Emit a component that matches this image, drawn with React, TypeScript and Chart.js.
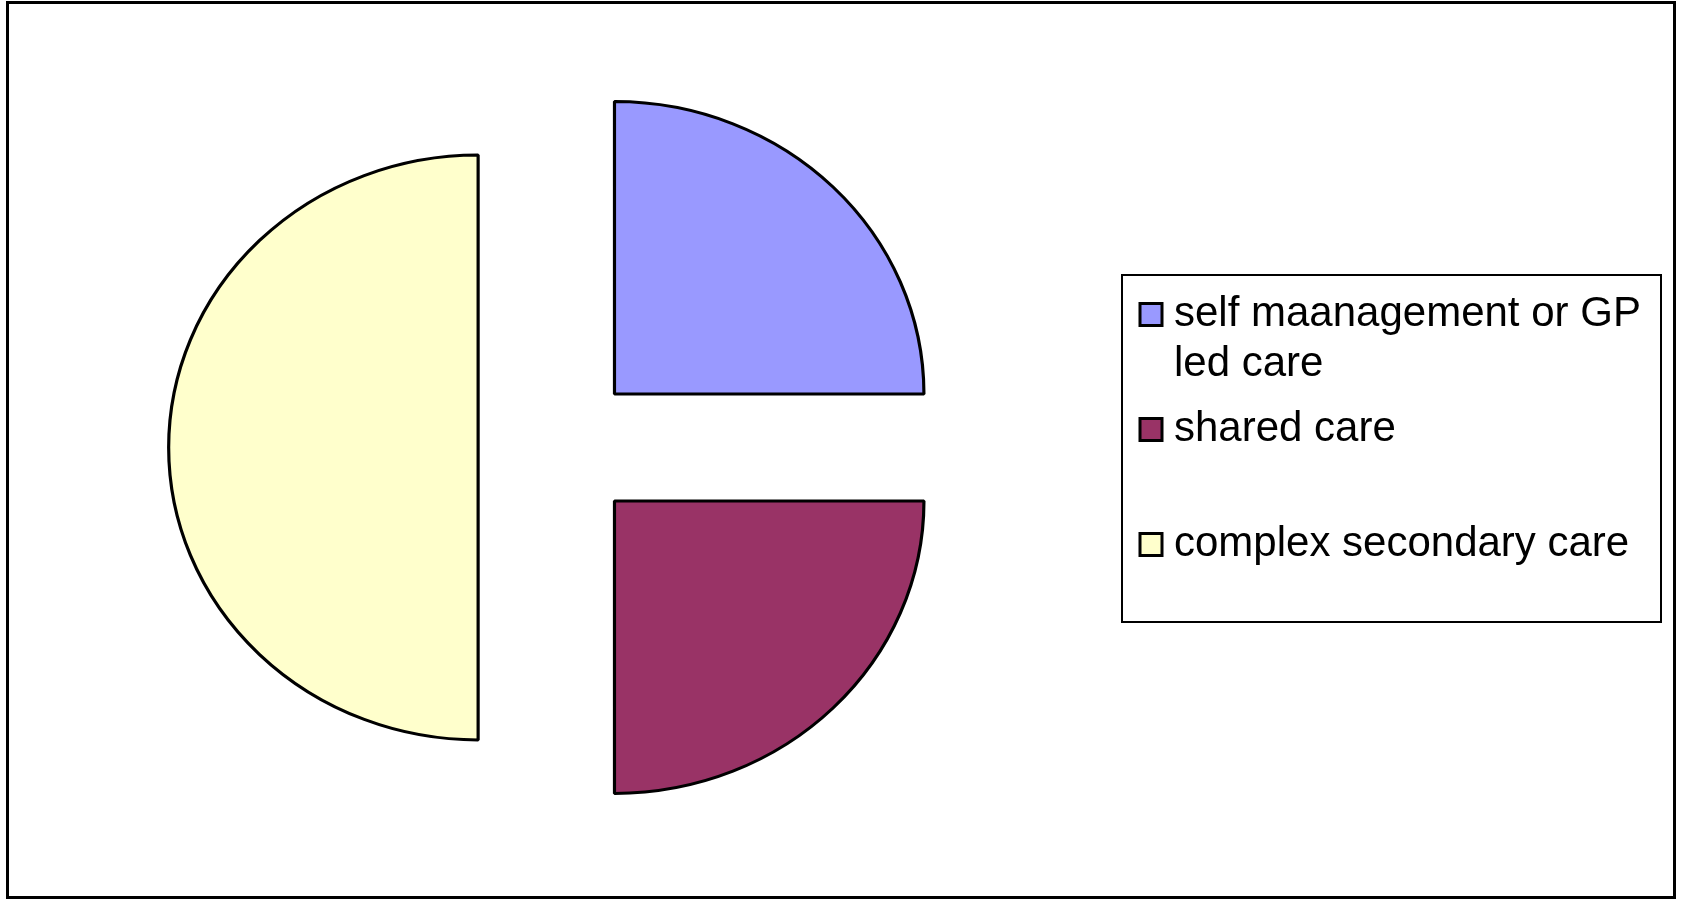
import React, { useEffect, useRef } from 'react';
import { Chart, registerables } from 'chart.js';

Chart.register(...registerables);

// ---- data ----
const categories: string[][] = [
  ['self maanagement or GP', 'led care'],
  ['shared care', ''],
  ['complex secondary care', ''],
];
const shares: number[] = [25, 25, 50];
const sliceColors: string[] = ['#9999FF', '#993366', '#FFFFCC'];

// ---- style ----
const PIE_RADIUS = 292.5;
const EXPLODE = 75.5;
const STRETCH_X = 1.058;
const FONT = "'Liberation Sans', Arial, sans-serif";
const LEGEND_FONT_SIZE = 42;
const LEGEND_PADDING = 15;
const LEGEND_BOX_W = 4;
const LEGEND_LEFT = 1134;
const SPACER = 18;

// Draws each arc (with the library's own ArcElement.draw) pushed out along its
// mid angle, and stretched horizontally like the original elliptical pie.
const explodedEllipsePlugin = {
  id: 'explodedEllipse',
  beforeDatasetDraw(chart: any, args: any) {
    const arcs = args.meta.data;
    if (!arcs || !arcs.length) return;
    const ctx = chart.ctx;
    const cx = arcs[0].x;
    const cy = arcs[0].y;
    ctx.save();
    ctx.translate(cx, cy);
    ctx.scale(STRETCH_X, 1);
    ctx.translate(-cx, -cy);
    for (const arc of arcs) {
      const mid = (arc.startAngle + arc.endAngle) / 2;
      ctx.save();
      ctx.translate(Math.cos(mid) * EXPLODE, Math.sin(mid) * EXPLODE);
      arc.draw(ctx);
      ctx.restore();
    }
    ctx.restore();
    return false;
  },
};

const framePlugin = {
  id: 'frames',
  afterDraw(chart: any) {
    const ctx = chart.ctx;
    ctx.save();
    ctx.strokeStyle = '#000';
    ctx.lineWidth = 3;
    ctx.strokeRect(7.5, 2.5, chart.width - 14, chart.height - 5);
    const lg = chart.legend;
    const hb = lg && lg.legendHitBoxes;
    if (hb && hb.length) {
      const top = hb[0].top - 18.5;
      const bottom = hb[hb.length - 1].top + 98.5;
      ctx.lineWidth = 2;
      ctx.strokeRect(lg.left - 12, top, 539, bottom - top);
    }
    ctx.restore();
  },
};

function legendWidth(): number {
  const c = document.createElement('canvas').getContext('2d');
  if (!c) return 520;
  c.font = `${LEGEND_FONT_SIZE}px ${FONT}`;
  let maxW = 0;
  for (const lines of categories) {
    const longest = lines.reduce((a, b) => (a.length > b.length ? a : b));
    maxW = Math.max(maxW, c.measureText(longest).width);
  }
  return LEGEND_PADDING + LEGEND_BOX_W + LEGEND_FONT_SIZE / 2 + maxW + 10;
}

export default function App() {
  const canvasRef = useRef<HTMLCanvasElement | null>(null);

  useEffect(() => {
    if (!canvasRef.current) return;
    const W = legendWidth();
    const padRight = Math.max(0, 1681 - LEGEND_LEFT - W);
    const chart = new Chart(canvasRef.current, {
      type: 'pie',
      data: {
        labels: categories as any,
        datasets: [
          {
            data: shares,
            backgroundColor: sliceColors,
            borderColor: '#000',
            borderWidth: 3,
          },
        ],
      },
      options: {
        responsive: false,
        animation: false,
        events: [],
        radius: PIE_RADIUS,
        layout: { padding: { left: 0, right: padRight, top: 0, bottom: 5 } },
        plugins: {
          tooltip: { enabled: false },
          title: {
            display: true,
            position: 'right',
            text: '',
            weight: 500,
            font: { size: SPACER, lineHeight: 1 },
            padding: 0,
          },
          legend: {
            position: 'right',
            maxWidth: 700,
            title: {
              display: true,
              text: '',
              font: { size: 22, lineHeight: 1 },
              padding: 0,
            },
            labels: {
              usePointStyle: true,
              pointStyle: 'rect',
              boxWidth: LEGEND_BOX_W,
              boxHeight: 22,
              padding: LEGEND_PADDING,
              color: '#000',
              font: { family: FONT, size: LEGEND_FONT_SIZE, lineHeight: '50px' },
            },
          },
        },
      } as any,
      plugins: [explodedEllipsePlugin, framePlugin],
    });
    return () => chart.destroy();
  }, []);

  return (
    <div style={{ position: 'absolute', left: 0, top: 0, width: 1681, height: 900, background: '#fff' }}>
      <canvas ref={canvasRef} width={1681} height={900} style={{ display: 'block' }} />
    </div>
  );
}
